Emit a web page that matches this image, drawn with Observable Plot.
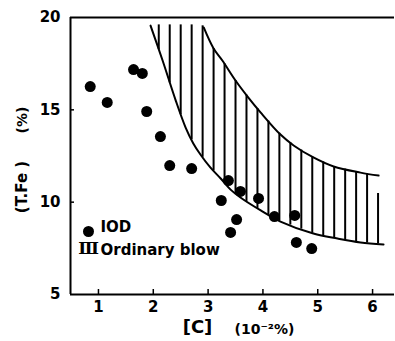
<!DOCTYPE html>
<html><head><meta charset="utf-8">
<script src="https://cdn.jsdelivr.net/npm/d3@7"></script>
<script src="https://cdn.jsdelivr.net/npm/@observablehq/plot@0.6"></script>
<style>body{margin:0;background:#fff}</style>
</head><body><div id="chart"></div>
<script>
// IOD points
const iodC  = [0.85, 1.16, 1.64, 1.80, 1.88, 2.13, 2.30, 2.70, 3.24, 3.37, 3.59, 3.92, 3.52, 3.41, 4.21, 4.58, 4.61, 4.89];
const iodFe = [16.26, 15.40, 17.18, 16.97, 14.91, 13.55, 11.98, 11.82, 10.09, 11.17, 10.58, 10.20, 9.06, 8.36, 9.22, 9.28, 7.82, 7.49];
// Ordinary blow band: lower boundary
const lowerC  = [1.95, 2.17, 2.41, 2.59, 2.73, 2.86, 3.04, 3.23, 3.41, 3.59, 3.96, 4.32, 4.92, 5.36, 5.78, 6.20];
const lowerFe = [19.56, 17.67, 15.50, 14.04, 13.18, 12.58, 11.88, 11.28, 10.68, 10.25, 9.55, 8.95, 8.30, 8.03, 7.82, 7.71];
// upper boundary
const upperC  = [2.92, 3.10, 3.26, 3.50, 3.72, 3.96, 4.32, 4.56, 4.92, 5.29, 5.78, 6.11];
const upperFe = [19.46, 18.32, 17.67, 16.59, 15.72, 14.85, 13.66, 13.07, 12.42, 11.93, 11.60, 11.44];
// vertical hatch lines
const hatchC   = [2.1, 2.3, 2.5, 2.7, 2.9, 3.1, 3.3, 3.5, 3.7, 3.9, 4.1, 4.3, 4.5, 4.7, 4.9, 5.1, 5.3, 5.5, 5.7, 5.9, 6.1];
const hatchTop = [19.6, 19.6, 19.6, 19.6, 19.55, 18.32, 17.49, 16.59, 15.80, 15.07, 14.39, 13.73, 13.22, 12.82, 12.46, 12.18, 11.92, 11.79, 11.65, 11.54, 10.47];
const hatchBot = [18.26, 16.46, 14.74, 13.38, 12.43, 11.70, 11.04, 10.46, 10.04, 9.66, 9.31, 8.98, 8.76, 8.54, 8.32, 8.19, 8.07, 7.96, 7.86, 7.79, 7.74];
// axes
const xTicks = [1, 2, 3, 4, 5, 6];
const yTicks = [5, 10, 15, 20];
const xDomain = [0.49, 6.4];
const yDomain = [5, 20];
// texts
const legendLabels = ["IOD", "Ordinary blow"];
const yTitle = ["(T.Fe )", "(%)"];
const xTitle = ["[C]", "(10⁻²%)"];

const iod = iodC.map((c, i) => ({c, fe: iodFe[i]}));
const lower = lowerC.map((c, i) => ({c, fe: lowerFe[i]}));
const upper = upperC.map((c, i) => ({c, fe: upperFe[i]}));
const hatch = hatchC.map((c, i) => ({c, top: hatchTop[i], bot: hatchBot[i]}));

const font = "DejaVu Sans";
const chart = Plot.plot({
  width: 395, height: 341,
  marginLeft: 70, marginRight: 1, marginTop: 17, marginBottom: 47,
  style: {fontFamily: font, fontSize: "15px", fontWeight: "bold", color: "#000", background: "#fff"},
  x: {domain: xDomain, ticks: xTicks, tickFormat: d3.format("d"), tickSize: 0, tickPadding: 7, label: null},
  y: {domain: yDomain, ticks: yTicks, tickFormat: d3.format("d"), tickSize: 0, tickPadding: 10, label: null},
  marks: [
    Plot.ruleY([yDomain[0]], {strokeWidth: 2}),
    Plot.ruleY([yDomain[1]], {strokeWidth: 2}),
    Plot.ruleX([xDomain[0]], {strokeWidth: 2}),
    Plot.tickX(xTicks, {x: d => d, insetTop: 272, strokeWidth: 1.5}),
    Plot.tickY(yTicks.slice(1, -1), {y: d => d, insetRight: 320, strokeWidth: 1.5}),
    Plot.ruleX(hatch, {x: "c", y1: "bot", y2: "top", strokeWidth: 2}),
    Plot.line(lower, {x: "c", y: "fe", curve: "catmull-rom", strokeWidth: 2}),
    Plot.line(upper, {x: "c", y: "fe", curve: "catmull-rom", strokeWidth: 2}),
    Plot.dot(iod, {x: "c", y: "fe", r: 5.5, fill: "#000"}),
    // legend
    Plot.dot([0], {x: null, y: null, frameAnchor: "bottom-left", dx: 18, dy: -63, r: 5.5, fill: "#000"}),
    Plot.text([legendLabels[0]], {frameAnchor: "bottom-left", textAnchor: "start", dx: 30, dy: -63}),
    Plot.text(["Ⅲ"], {frameAnchor: "bottom-left", textAnchor: "middle", dx: 18, dy: -41, fontSize: 17, fontWeight: "bold", fontFamily: "DejaVu Serif"}),
    Plot.text([legendLabels[1]], {frameAnchor: "bottom-left", textAnchor: "start", dx: 30, dy: -40}),
    // axis titles
    Plot.text([yTitle[0]], {frameAnchor: "left", textAnchor: "middle", rotate: -90, dx: -48, dy: 31, fontSize: 15}),
    Plot.text([yTitle[1]], {frameAnchor: "left", textAnchor: "middle", rotate: -90, dx: -48, dy: -36, fontSize: 14}),
    Plot.text([xTitle[0]], {frameAnchor: "bottom", textAnchor: "middle", dx: -35, dy: 38, fontSize: 18}),
    Plot.text([xTitle[1]], {frameAnchor: "bottom", textAnchor: "middle", dx: 32, dy: 39, fontSize: 14})
  ]
});
document.getElementById("chart").append(chart);
</script>
</body></html>
